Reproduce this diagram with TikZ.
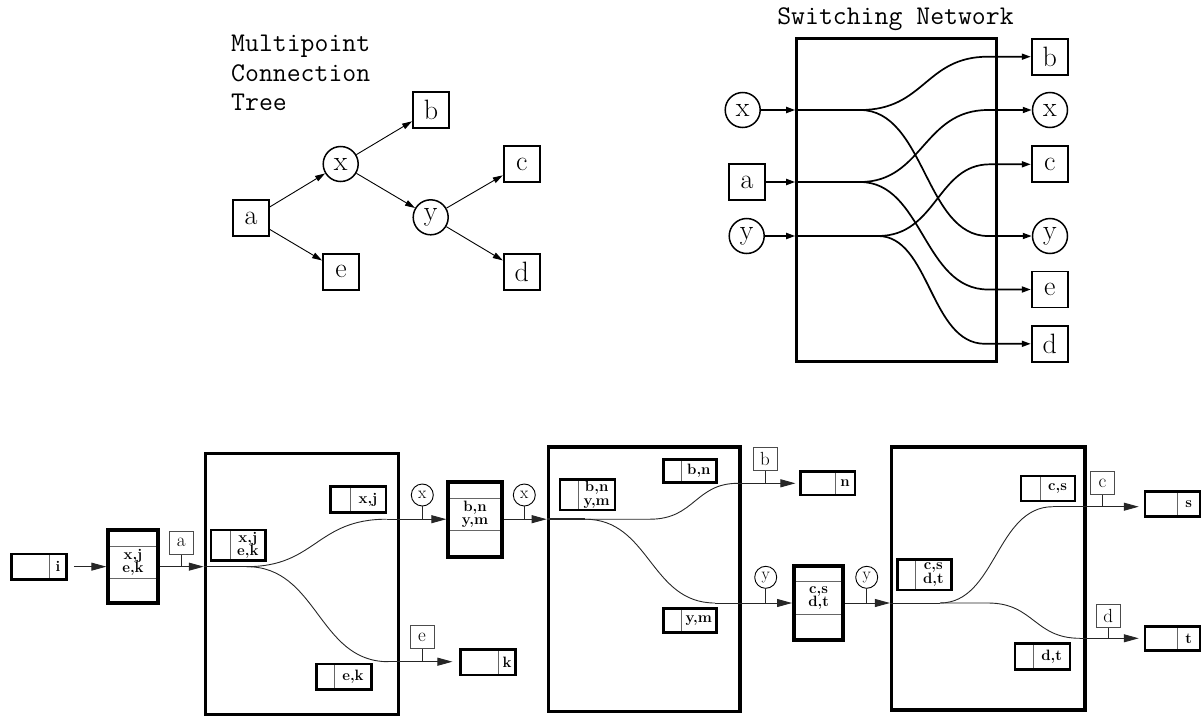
\documentclass[tikz,border=0pt]{standalone}
\usepackage{fontspec}
\usetikzlibrary{arrows.meta}

% two-cell table: name, x1, y1, x2, y2, divider x, text in right cell
\newcommand\celltab[7]{%
  \draw[divider] (#6,#3) -- (#6,#5);
  \node[tabframe, minimum width={#4-#2}, minimum height={#5-#3}] (#1) at ({(#2+#4)/2},{(#3+#5)/2}) {};
  \node[lbl] (#1-t) at ({(#6+#4)/2},{(#3+#5)/2}) {#7};
}
% buffer with three rows: name, x1, y1, x2, y2, divider y1, divider y2, text in middle row
\newcommand\bufbox[8]{%
  \draw[divider] (#2,#6) -- (#4,#6);
  \draw[divider] (#2,#7) -- (#4,#7);
  \node[bufframe, minimum width={#4-#2}, minimum height={#5-#3}] (#1) at ({(#2+#4)/2},{(#3+#5)/2}) {};
  \node[lbl] (#1-t) at ({(#2+#4)/2},{(#6+#7)/2}) {#8};
}

\begin{document}
\begin{tikzpicture}[x=1pt,y=-1pt,
  treebox/.style={draw, line width=1.8pt, minimum size=36pt, inner sep=0pt, font=\fontsize{28}{28}\selectfont},
  treecirc/.style={draw, circle, line width=1.5pt, minimum size=35pt, inner sep=0pt, font=\fontsize{28}{28}\selectfont},
  treearr/.style={line width=0.9pt, -{Triangle[length=10pt,width=6pt]}},
  title/.style={font=\ttfamily\fontsize{27}{27}\selectfont, inner sep=0pt},
  swframe/.style={draw, line width=3pt, inner sep=0pt},
  swline/.style={line width=1.7pt},
  swarr/.style={line width=1.7pt, -{Triangle[length=9pt,width=6pt]}},
  bigframe/.style={draw, line width=3.5pt, inner sep=0pt},
  bufframe/.style={draw, line width=4pt, inner sep=0pt},
  tabframe/.style={draw, line width=2.5pt, inner sep=0pt},
  divider/.style={draw=black!60, line width=1pt},
  lbl/.style={inner sep=0pt, align=center, font=\bfseries\fontsize{15}{13.5}\selectfont},
  wire/.style={line width=0.9pt, draw=black!85},
  wirearr/.style={wire, -{Triangle[length=15pt,width=8pt]}},
  tagbox/.style={draw=black!70, line width=1pt, minimum width=24pt, minimum height=23pt, inner sep=0pt, font=\fontsize{19}{19}\selectfont},
  tagcirc/.style={draw, circle, line width=0.9pt, minimum size=22pt, inner sep=0pt, font=\fontsize{17}{17}\selectfont},
]
\useasboundingbox (0,0) rectangle (1204,717);

% ---------- multipoint connection tree ----------
\node[title, anchor=base west] (mt1) at (231,51.7) {Multipoint};
\node[title, anchor=base west] (mt2) at (231,81.7) {Connection};
\node[title, anchor=base west] (mt3) at (231,110) {Tree};

\node[treebox]  (ta) at (251,218.3) {a};
\node[treecirc] (tx) at (340.7,164) {x};
\node[treebox]  (tb) at (431,110) {b};
\node[treecirc] (ty) at (430.7,217.3) {y};
\node[treebox]  (tc) at (521.7,164.3) {c};
\node[treebox]  (td) at (521.7,271.7) {d};
\node[treebox]  (te) at (341,271.7) {e};

\draw[treearr] (ta) -- (tx);
\draw[treearr] (ta) -- (te);
\draw[treearr] (tx) -- (tb);
\draw[treearr] (tx) -- (ty);
\draw[treearr] (ty) -- (tc);
\draw[treearr] (ty) -- (td);

% ---------- switching network ----------
\node[title, anchor=base] (swt) at (895.5,25) {Switching Network};
\node[swframe, minimum width=199.3pt, minimum height=323.4pt] (sw) at (896.35,200) {};

\node[treecirc] (sxL) at (742.7,110) {x};
\node[treebox]  (saL) at (747,182) {a};
\node[treecirc] (syL) at (746.7,236) {y};

\node[treebox]  (sbR) at (1049.7,56.7) {b};
\node[treecirc] (sxR) at (1050,110) {x};
\node[treebox]  (scR) at (1049.7,164.3) {c};
\node[treecirc] (syR) at (1050,236) {y};
\node[treebox]  (seR) at (1049.7,289.5) {e};
\node[treebox]  (sdR) at (1049.7,343.8) {d};

\draw[swarr] (sxL) -- (sxL -| sw.west);
\draw[swarr] (saL) -- (saL -| sw.west);
\draw[swarr] (syL) -- (syL -| sw.west);

\coordinate (jx) at (860,110);
\coordinate (ja) at (860,182);
\coordinate (jy) at (878,236);
\draw[swline] (sxL -| sw.west) -- (jx);
\draw[swline] (saL -| sw.west) -- (ja);
\draw[swline] (syL -| sw.west) -- (jy);

\draw[swarr] (jx) .. controls (925,110) and (925,56.7) .. (988,56.7) -- (sbR);
\draw[swarr] (jx) .. controls (925,110) and (925,236) .. (988,236) -- (syR);
\draw[swarr] (ja) .. controls (923,182) and (923,110) .. (988,110) -- (sxR);
\draw[swarr] (ja) .. controls (923,182) and (923,289.5) .. (988,289.5) -- (seR);
\draw[swarr] (jy) .. controls (937,236) and (937,164.3) .. (990,164.3) -- (scR);
\draw[swarr] (jy) .. controls (930,236) and (930,343.8) .. (985,343.8) -- (sdR);

% ---------- first stage ----------
\celltab{ti}{11.7}{554}{66.7}{579.3}{49}{i}
\bufbox{bf1}{108.3}{530}{157.7}{603.3}{546}{578.3}{x,j\\e,k}
\draw[wirearr, shorten <=6pt] (ti) -- (bf1);

\node[bigframe, minimum width=193pt, minimum height=261pt] (nb1) at (302,584) {};
\node[tagbox] (tga) at (181.2,542.8) {a};
\draw[wirearr] (bf1) -- (bf1 -| nb1.west);
\draw[wire] (tga.south) -- (tga.south |- bf1.east);

\celltab{tb1}{211}{530}{265.7}{560.7}{230}{x,j\\e,k}
\celltab{tb2}{330.7}{486.7}{386}{512.7}{350}{x,j}
\celltab{tb3}{316.7}{664}{371.7}{689.3}{334.3}{e,k}

\coordinate (k1) at (246.7,566.65);
\coordinate (u1) at (386.7,519.2);
\coordinate (l1) at (388.3,661.7);
\draw[wire] (bf1 -| nb1.west) -- (k1);
\draw[wire] (k1) .. controls (316,566.65) and (316,519.2) .. (u1);
\draw[wire] (k1) .. controls (318,566.65) and (318,661.7) .. (l1);

\bufbox{bf2}{448.3}{481.7}{501.7}{556.7}{498.3}{530.7}{b,n\\y,m}
\draw[wirearr] (u1) -- (u1 -| bf2.west);
\node[tagcirc] (tgx1) at (422.3,495) {x};
\draw[wire] (tgx1.south) -- (tgx1.south |- u1);

\celltab{tk}{460.7}{649.3}{515.7}{675}{498.3}{k}
\draw[wirearr, shorten >=7pt] (l1) -- (l1 -| tk.west);
\node[tagbox] (tge) at (422,637.2) {e};
\draw[wire] (tge.south) -- (tge.south |- l1);

% ---------- second stage ----------
\node[bigframe, minimum width=191.6pt, minimum height=264.7pt] (nb2) at (644.2,579.3) {};
\node[tagcirc] (tgx2) at (524.3,495) {x};
\draw[wirearr] (bf2) -- (bf2 -| nb2.west);
\draw[wire] (tgx2.south) -- (tgx2.south |- bf2.east);

\celltab{tb4}{560}{479.3}{615}{510}{578.3}{b,n\\y,m}
\celltab{tb5}{663.3}{459.3}{716.7}{482.7}{681}{b,n}
\celltab{tb6}{663.3}{608.3}{716.7}{632.7}{681}{y,m}

\coordinate (k2) at (585,519.2);
\coordinate (u2a) at (650,519.2);
\coordinate (u2) at (738,483.3);
\coordinate (l2) at (715,603);
\draw[wire, line width=1.6pt] (bf2 -| nb2.west) -- (k2);
\draw[wire] (k2) -- (u2a) .. controls (695,519.2) and (695,483.3) .. (u2);
\draw[wire] (k2) .. controls (650,519.2) and (650,603) .. (l2);

\celltab{tn}{800.7}{471.7}{855}{495}{835}{n}
\draw[wirearr, shorten >=4pt] (u2) -- (u2 -| tn.west);
\node[tagbox] (tgb) at (765,458.7) {b};
\draw[wire] (tgb.south) -- (tgb.south |- u2);

\bufbox{bf3}{794}{566}{843.3}{640}{581.7}{614.3}{c,s\\d,t}
\draw[wirearr] (l2) -- (l2 -| bf3.west);
\node[tagcirc] (tgy1) at (765.7,577.3) {y};
\draw[wire] (tgy1.south) -- (tgy1.south |- l2);

% ---------- third stage ----------
\node[bigframe, minimum width=193.3pt, minimum height=263pt] (nb3) at (988.3,578.5) {};
\node[tagcirc] (tgy2) at (866.7,577.3) {y};
\draw[wirearr] (bf3) -- (bf3 -| nb3.west);
\draw[wire] (tgy2.south) -- (tgy2.south |- bf3.east);

\celltab{tb7}{897.3}{559.3}{951.7}{590}{915}{c,s\\d,t}
\celltab{tb8}{1021}{476}{1075}{501}{1040}{c,s}
\celltab{tb9}{1015}{643.3}{1070}{669.3}{1033.3}{d,t}

\coordinate (k3) at (940,603);
\coordinate (u3) at (1053,506.7);
\coordinate (l3a) at (988,603);
\coordinate (l3) at (1080,638.3);
\draw[wire] (bf3 -| nb3.west) -- (k3);
\draw[wire] (k3) .. controls (996,603) and (996,506.7) .. (u3);
\draw[wire] (k3) -- (l3a) .. controls (1034,603) and (1034,638.3) .. (l3);

\celltab{ts}{1145}{491.7}{1200}{516.7}{1177.3}{s}
\draw[wirearr, shorten >=5pt] (u3) -- (u3 -| ts.west);
\node[tagbox] (tgc) at (1102.5,483.3) {c};
\draw[wire] (tgc.south) -- (tgc.south |- u3);

\celltab{tt}{1145}{626.7}{1200}{650.7}{1177.3}{t}
\draw[wirearr, shorten >=5pt] (l3) -- (l3 -| tt.west);
\node[tagbox] (tgd) at (1108.3,616.2) {d};
\draw[wire] (tgd.south) -- (tgd.south |- l3);

\end{tikzpicture}
\end{document}
